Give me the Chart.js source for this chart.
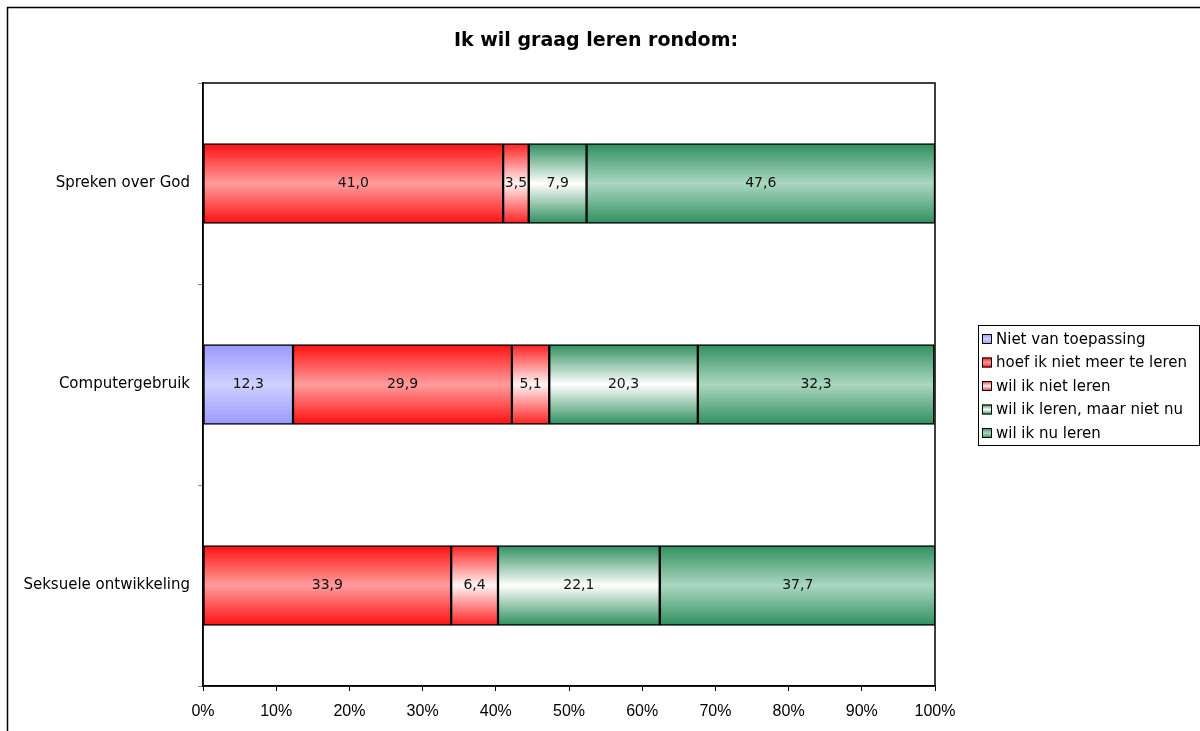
<!DOCTYPE html>
<html>
<head>
<meta charset="utf-8">
<script src="https://cdn.jsdelivr.net/npm/chart.js@4/dist/chart.umd.min.js"></script>
<style>
html,body{margin:0;padding:0;background:#fff;overflow:hidden;}
canvas{display:block;}
</style>
</head>
<body>
<canvas id="c" width="1200" height="731"></canvas>
<script>
const titleText = 'Ik wil graag leren rondom:';
const categories = ['Spreken over God', 'Computergebruik', 'Seksuele ontwikkeling'];
const seriesNames = ['Niet van toepassing', 'hoef ik niet meer te leren', 'wil ik niet leren', 'wil ik leren, maar niet nu', 'wil ik nu leren'];
const nietVanToepassing = [0, 12.3, 0];
const hoefIkNietMeer = [41.0, 29.9, 33.9];
const wilIkNietLeren = [3.5, 5.1, 6.4];
const wilIkLerenNietNu = [7.9, 20.3, 22.1];
const wilIkNuLeren = [47.6, 32.3, 37.7];
const xTicks = [0, 10, 20, 30, 40, 50, 60, 70, 80, 90, 100];

const edgeColors = ['#9999ff', '#ff1010', '#ff2020', '#2f8f5e', '#2f8f5e'];
const midColors  = ['#d0d0ff', '#ff9c9c', '#fff4f4', '#ffffff', '#aad7c0'];
const seriesValues = [nietVanToepassing, hoefIkNietMeer, wilIkNietLeren, wilIkLerenNietNu, wilIkNuLeren];

const BAR_T = 80;
function grad(ctx, y0, y1, i) {
  const g = ctx.createLinearGradient(0, y0, 0, y1);
  g.addColorStop(0, edgeColors[i]);
  g.addColorStop(0.5, midColors[i]);
  g.addColorStop(1, edgeColors[i]);
  return g;
}

const decoPlugin = {
  id: 'deco',
  beforeDraw(chart) {
    const ctx = chart.ctx;
    ctx.save();
    ctx.fillStyle = '#fff';
    ctx.fillRect(0, 0, chart.width, chart.height);
    ctx.strokeStyle = '#000';
    ctx.lineWidth = 1.5;
    ctx.beginPath();
    ctx.moveTo(7.5, 731); ctx.lineTo(7.5, 7.5); ctx.lineTo(1200, 7.5);
    ctx.stroke();
    ctx.fillStyle = '#000';
    ctx.font = 'bold 19px "DejaVu Sans", Verdana, sans-serif';
    ctx.textAlign = 'center';
    ctx.textBaseline = 'middle';
    ctx.fillText(titleText, 596, 41);
    ctx.restore();
  },
  afterDatasetsDraw(chart) {
    const ctx = chart.ctx;
    const a = chart.chartArea;
    ctx.save();
    ctx.strokeStyle = '#000';
    ctx.lineWidth = 1.5;
    ctx.strokeRect(a.left, a.top, a.right - a.left, a.bottom - a.top);
    ctx.fillStyle = '#111';
    ctx.font = '14px "DejaVu Sans", Verdana, sans-serif';
    ctx.textAlign = 'center';
    ctx.textBaseline = 'middle';
    chart.data.datasets.forEach((ds, di) => {
      const meta = chart.getDatasetMeta(di);
      meta.data.forEach((el, i) => {
        const v = ds.data[i];
        if (!v) return;
        const cx = (el.x + el.base) / 2;
        ctx.fillText(v.toFixed(1).replace('.', ','), cx, el.y);
      });
    });
    const lx = 978, ly = 325, lw = 221, lh = 120;
    ctx.strokeStyle = '#000';
    ctx.lineWidth = 1;
    ctx.fillStyle = '#fff';
    ctx.fillRect(lx + 0.5, ly + 0.5, lw, lh);
    ctx.strokeRect(lx + 0.5, ly + 0.5, lw, lh);
    ctx.textAlign = 'left';
    ctx.font = '15px "DejaVu Sans", Verdana, sans-serif';
    seriesNames.forEach((name, i) => {
      const cy = 339 + i * 23.5;
      ctx.fillStyle = grad(ctx, cy - 5, cy + 5, i);
      ctx.fillRect(982, cy - 5, 10, 10);
      ctx.strokeStyle = '#000';
      ctx.strokeRect(982.5, cy - 4.5, 9, 9);
      ctx.fillStyle = '#000';
      ctx.fillText(name, 996, cy + 1);
    });
    ctx.restore();
  }
};

const datasets = seriesNames.map((name, i) => ({
  label: name,
  data: seriesValues[i],
  borderColor: '#000',
  borderWidth: 1.5,
  borderSkipped: false,
  barThickness: BAR_T,
  backgroundColor: (c) => {
    const chart = c.chart;
    if (!chart.chartArea || !chart.scales.y) return midColors[i];
    const yc = chart.scales.y.getPixelForValue(c.dataIndex);
    return grad(chart.ctx, yc - BAR_T / 2, yc + BAR_T / 2, i);
  }
}));

new Chart(document.getElementById('c'), {
  type: 'bar',
  data: { labels: categories, datasets },
  plugins: [decoPlugin],
  options: {
    indexAxis: 'y',
    responsive: false,
    animation: false,
    events: [],
    layout: { padding: { left: 0, top: 83, right: 265, bottom: 0 } },
    plugins: {
      legend: { display: false },
      title: { display: false },
      tooltip: { enabled: false }
    },
    scales: {
      x: {
        stacked: true,
        min: 0, max: 100,
        afterBuildTicks(s) { s.ticks = xTicks.map(v => ({ value: v })); },
        afterFit(s) { s.height = 45; },
        ticks: {
          callback: (v) => v + '%',
          color: '#000',
          font: { family: '"Liberation Sans", Arial, sans-serif', size: 16 },
          padding: 11,
          maxRotation: 0
        },
        grid: { drawOnChartArea: false, tickLength: 5, color: '#000', lineWidth: 1 },
        border: { display: true, color: '#000', width: 1.5 }
      },
      y: {
        stacked: true,
        afterFit(s) { s.width = 203; },
        ticks: {
          color: '#000',
          font: { family: '"DejaVu Sans", Verdana, sans-serif', size: 15 },
          padding: 8
        },
        grid: { drawOnChartArea: false, offset: true, tickLength: 5, color: '#888', lineWidth: 1 },
        border: { display: true, color: '#000', width: 1.5 }
      }
    }
  }
});
</script>
</body>
</html>
